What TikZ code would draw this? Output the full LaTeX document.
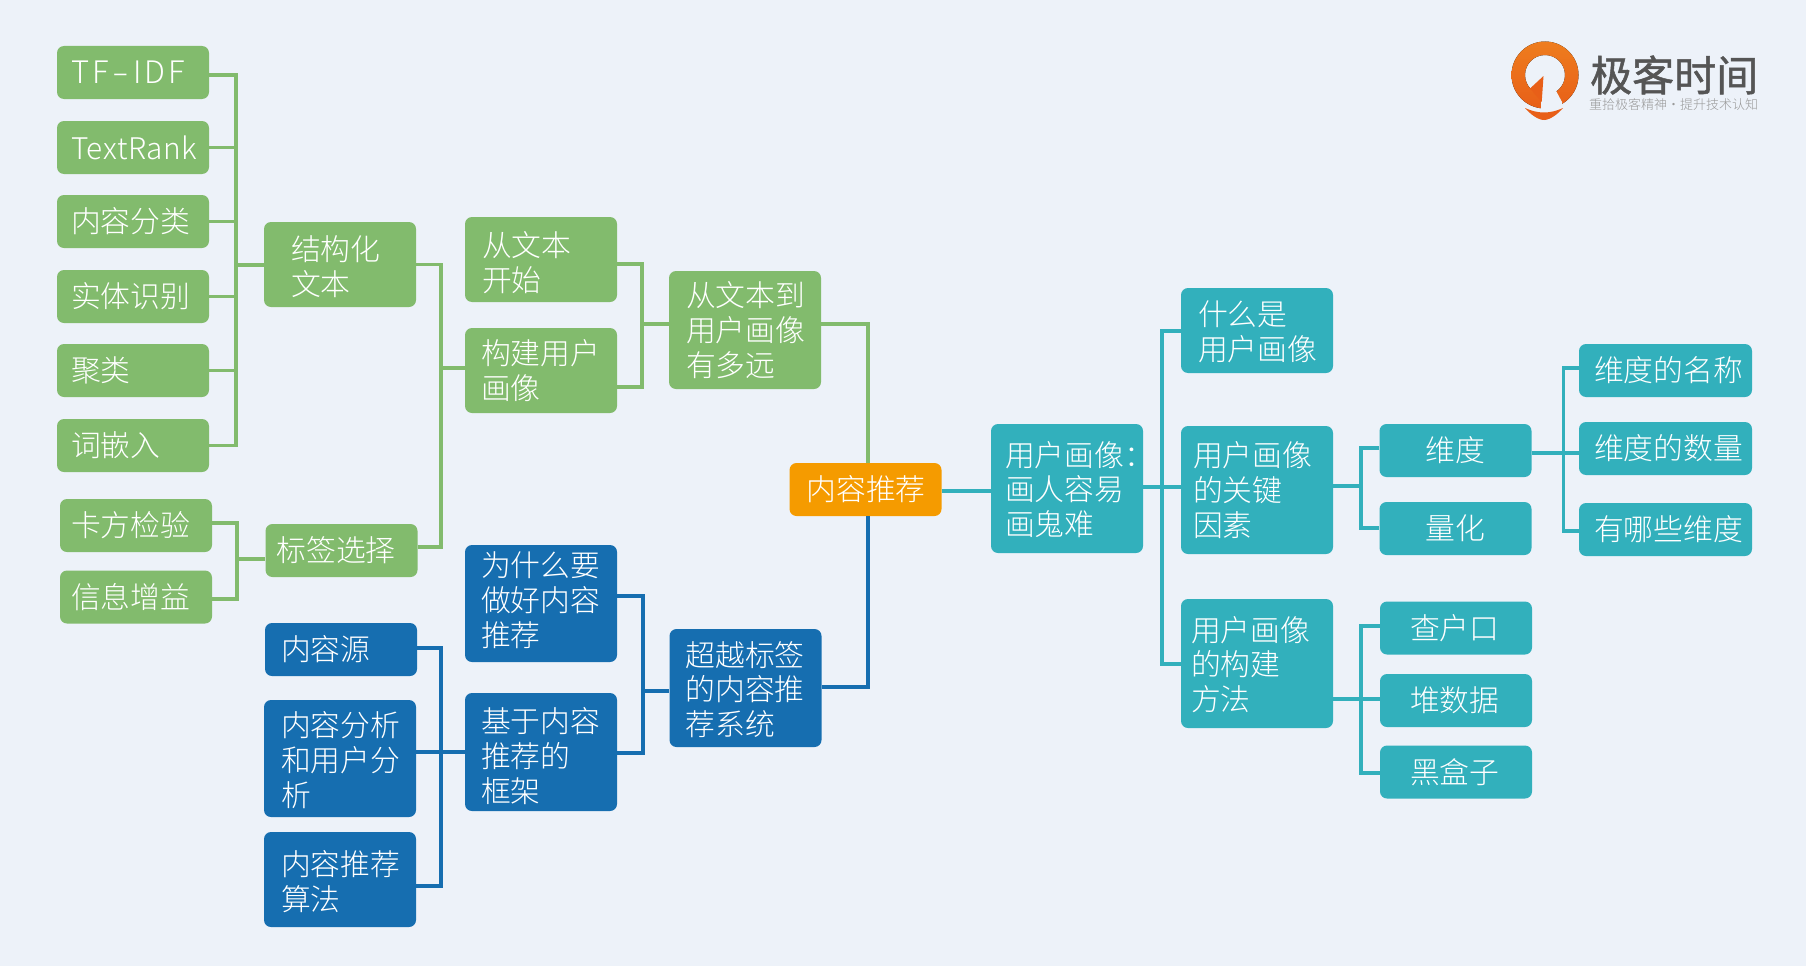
\documentclass[tikz,border=0pt]{standalone}
\usepackage{fontspec}
\usepackage{xcolor}
\usepackage{tikz}
\setmainfont{Noto Sans CJK SC Light}
\newfontfamily\logofont[FakeBold=1.2]{Noto Sans CJK SC}
\usetikzlibrary{arrows.meta,positioning,calc}
\definecolor{pagebg}{HTML}{EDF2F9}
\definecolor{branchgreen}{HTML}{82BB6D}
\definecolor{branchblue}{HTML}{166EB0}
\definecolor{branchteal}{HTML}{32B0BC}
\definecolor{rootorange}{HTML}{F59B00}
\definecolor{logoorange}{HTML}{EE7D1E}
\definecolor{logodark}{HTML}{E85F18}
\definecolor{logotext}{HTML}{555555}
\definecolor{logosub}{HTML}{9A9A9A}

\begin{document}
\begin{tikzpicture}[
        x=1pt, y=-1pt,
        every node/.style={font=\fontsize{29.8}{34.8}\selectfont, text=white, inner ysep=0pt},
        box/.style={rounded corners=7pt, align=left, minimum height=#1},
        box/.default=53pt,
        pad/.style={/utils/exec={\pgfmathsetmacro\tw{152-2*#1}}, inner xsep=#1pt, text width=\tw pt},
        nudge/.style={execute at begin node={\rule{0pt}{\dimexpr 25pt+#1pt\relax}}},
        lift/.style={execute at end node={\rule[-\dimexpr 4pt+#1pt\relax]{0pt}{0pt}}},
        gbox/.style={box=#1, fill=branchgreen},
        gbox/.default=53pt,
        bbox/.style={box=#1, fill=branchblue},
        bbox/.default=53pt,
        tbox/.style={box=#1, fill=branchteal},
        tbox/.default=53pt,
        gline/.style={draw=branchgreen, line width=3.2pt},
        bline/.style={draw=branchblue, line width=3.2pt},
        tline/.style={draw=branchteal, line width=3.2pt}
    ]
    \useasboundingbox (0,0) rectangle (1806,966);
    \fill[pagebg] (0,0) rectangle (1806,966);

    % ============ trunk points ============
    \coordinate (leftjoin) at (236,265);
    \coordinate (tagjoin) at (237,559);
    \coordinate (textjoin) at (441,368);
    \coordinate (usertop) at (642,264);
    \coordinate (userlow) at (642,387);
    \coordinate (usermid) at (642,324);
    \coordinate (greenup) at (868,324);
    \coordinate (whytop) at (643,596);
    \coordinate (whylow) at (643,753);
    \coordinate (whymid) at (643,691);
    \coordinate (bluedown) at (868,687);
    \coordinate (srctop) at (441,648);
    \coordinate (srclow) at (441,886);
    \coordinate (srcmid) at (441,752);
    \coordinate (rootline) at (900,491);
    \coordinate (tealtop) at (1162,331);
    \coordinate (teallow) at (1162,664);
    \coordinate (tealmid) at (1162,487);
    \coordinate (keytop) at (1361,448);
    \coordinate (keylow) at (1361,528);
    \coordinate (keymid) at (1361,486);
    \coordinate (dimtop) at (1563.5,368);
    \coordinate (dimlow) at (1563.5,531);
    \coordinate (dimmid) at (1563.5,453);
    \coordinate (wayjoin) at (1361,699);
    \coordinate (waytop) at (1361,626);
    \coordinate (waylow) at (1361,773);

    % ============ green branch ============
    \node[gbox, pad=14] (tfidf) at (133,72.5) {\fontsize{31}{35}\selectfont\addfontfeature{LetterSpace=10}TF\hspace{4pt}\scalebox{1.6}[1]{-}\hspace{4pt}IDF};
    \node[gbox, pad=14] (textrank) at (133,147.5) {\addfontfeature{LetterSpace=2}TextRank};
    \node[gbox, pad=14] (classify) at (133,221.5) {内容分类};
    \node[gbox, pad=14] (entity) at (133,296.5) {实体识别};
    \node[gbox, pad=14] (cluster) at (133,370.5) {聚类};
    \node[gbox, pad=14] (embed) at (133,445.5) {词嵌入};
    \node[gbox, pad=11] (chisq) at (136,525.5) {卡方检验};
    \node[gbox, pad=11] (infogain) at (136,597) {信息增益};
    \node[gbox=85pt, pad=27, nudge=4] (structure) at (340,264.5) {结构化\\文本};
    \node[gbox, pad=11] (tagselect) at (341.5,550.5) {标签选择};
    \node[gbox=85pt, pad=17, nudge=6] (fromtext) at (541,259.5) {从文本\\开始};
    \node[gbox=85pt, pad=16] (buildprofile) at (541,370.5) {构建用户\\画像};
    \node[gbox=118pt, pad=17] (howfar) at (745,330) {从文本到\\用户画像\\有多远};

    % ============ root ============
    \node[box, fill=rootorange, pad=17] (root) at (865.5,489.5) {内容推荐};

    % ============ blue branch ============
    \node[bbox=117pt, pad=16, lift=5] (whygood) at (541,603.5) {为什么要\\做好内容\\推荐};
    \node[bbox=118pt, pad=16, nudge=8] (framework) at (541,752) {基于内容\\推荐的\\框架};
    \node[bbox=118pt, pad=16, nudge=3] (beyond) at (745.5,688) {超越标签\\的内容推\\荐系统};
    \node[bbox, pad=16] (source) at (341,649.5) {内容源};
    \node[bbox=117pt, pad=17, nudge=3] (analysis) at (340,758.5) {内容分析\\和用户分\\析};
    \node[bbox=95pt, pad=17, nudge=4] (algorithm) at (340,879.5) {内容推荐\\算法};

    % ============ teal branch ============
    \node[tbox=129pt, pad=14, nudge=2] (profile) at (1067,488.5) {用户画像：\\画人容易\\画鬼难};
    \node[tbox=85pt, pad=17, nudge=2] (whatis) at (1257,330.5) {什么是\\用户画像};
    \node[tbox=128pt, pad=12] (keyfactor) at (1257,490) {用户画像\\的关键\\因素};
    \node[tbox=129pt, pad=10, nudge=2] (buildway) at (1257,663.5) {用户画像\\的构建\\方法};
    \node[tbox, pad=46] (dimension) at (1455.5,450.5) {维度};
    \node[tbox, pad=46] (quantify) at (1455.5,528.5) {量化};
    \node[tbox, pad=30] (survey) at (1456,628) {查户口};
    \node[tbox, pad=30] (heapdata) at (1456,700.5) {堆数据};
    \node[tbox, pad=30] (blackbox) at (1456,772) {黑盒子};
    \node[tbox, inner xsep=15pt, text width=143pt] (dimname) at (1665.5,370.5) {维度的名称};
    \node[tbox, inner xsep=15pt, text width=143pt] (dimcount) at (1665.5,448.5) {维度的数量};
    \node[tbox, inner xsep=15pt, text width=143pt] (dimwhich) at (1665.5,529.5) {有哪些维度};

    % green links
    \draw[gline] (tfidf.east) ++(0,2.5) -| (leftjoin);
    \foreach \n in {textrank,classify,entity,cluster,embed}
    \draw[gline] (\n.east) -| (leftjoin);
    \draw[gline] (leftjoin) -- (leftjoin -| structure.west);
    \draw[gline] (chisq.east) ++(0,-2.5) -| (tagjoin);
    \draw[gline] (infogain.east) ++(0,2) -| (tagjoin);
    \draw[gline] (tagjoin) -- (tagjoin -| tagselect.west);
    \draw[gline] (structure.east) -| (textjoin);
    \draw[gline] (tagselect.east) ++(0,-3.5) -| (textjoin);
    \draw[gline] (textjoin) -- (textjoin -| buildprofile.west);
    \draw[gline] (usertop -| fromtext.east) -- (usertop) -- (userlow) -- (userlow -| buildprofile.east);
    \draw[gline] (usermid) -- (usermid -| howfar.west);
    \draw[gline] (greenup -| howfar.east) -- (greenup) -- (greenup |- root.north);

    % blue links
    \draw[bline] (whytop -| whygood.east) -- (whytop) -- (whylow) -- (whylow -| framework.east);
    \draw[bline] (whymid) -- (whymid -| beyond.west);
    \draw[bline] (bluedown -| beyond.east) -- (bluedown) -- (bluedown |- root.south);
    \draw[bline] (srctop -| source.east) -- (srctop) -- (srclow) -- (srclow -| algorithm.east);
    \draw[bline] (srcmid -| analysis.east) -- (srcmid -| framework.west);

    % teal links
    \draw[tline] (rootline -| root.east) -- (rootline -| profile.west);
    \draw[tline] (tealmid -| profile.east) -- (tealmid -| keyfactor.west);
    \draw[tline] (tealtop -| whatis.west) -- (tealtop) -- (teallow) -- (teallow -| buildway.west);
    \draw[tline] (keymid -| keyfactor.east) -- (keymid);
    \draw[tline] (keytop -| dimension.west) -- (keytop) -- (keylow) -- (keylow -| quantify.west);
    \draw[tline] (dimmid -| dimension.east) -- (dimmid -| dimcount.west);
    \draw[tline] (dimtop -| dimname.west) -- (dimtop) -- (dimlow) -- (dimlow -| dimwhich.west);
    \draw[tline] (wayjoin -| buildway.east) -- (wayjoin -| heapdata.west);
    \draw[tline] (waytop -| survey.west) -- (waytop) -- (waylow) -- (waylow -| blackbox.west);

    % ============ logo ============
    \fill[even odd rule, top color=logoorange, bottom color=logodark]
    (1545,75) circle (33.5) (1545,75) circle (20);
    \fill[pagebg] (1543,85) -- (1555,89) -- (1562,102) -- (1562,112) -- (1541,112) -- (1541,102) -- cycle;
    \fill[logodark] (1543.5,76) -- (1530,88.5) -- (1541.7,102) -- cycle;
    \fill[logodark] (1525,108) .. controls (1538,114) and (1550,114) .. (1563,108)
    .. controls (1558,114) and (1550,120) .. (1544,120)
    .. controls (1538,120) and (1530,114) .. (1525,108) -- cycle;
    \node[font=\logofont\fontsize{42}{42}\selectfont, text=logotext, inner sep=0pt, anchor=west] (logoname) at (1590,75) {极客时间};
    \node[font=\fontsize{13}{14}\selectfont, text=logosub, inner sep=0pt, anchor=west] (logotag) at (1589,105) {重拾极客精神·提升技术认知};
\end{tikzpicture}
\end{document}
